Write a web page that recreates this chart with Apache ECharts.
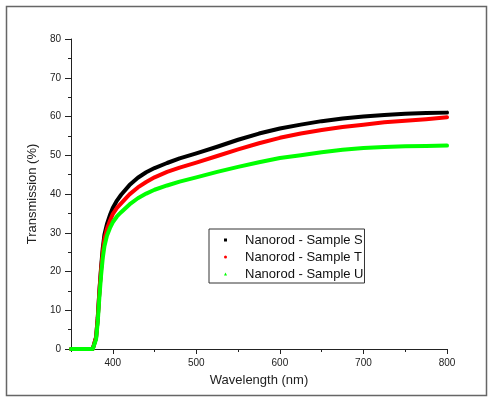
<!DOCTYPE html>
<html>
<head>
<meta charset="utf-8">
<script src="https://cdn.jsdelivr.net/npm/echarts@6/dist/echarts.min.js"></script>
<style>
  html, body { margin: 0; padding: 0; background: #fff; }
  #chart { width: 490px; height: 397px; }
</style>
</head>
<body>
<div id="chart"></div>
<script>
// Wavelength samples (nm)
const wavelength = [350, 360, 370, 376, 378, 380, 382, 384, 386, 388, 390, 393, 397, 400, 405, 410, 420, 430, 440, 450, 465, 480, 500, 525, 550, 575, 600, 625, 650, 675, 700, 725, 750, 775, 800];

// Transmission (%) for each sample
const sampleS = [0, 0, 0, 0, 0.5, 3, 8, 15, 21, 26, 29.5, 32.2, 34.8, 36.4, 38.3, 39.8, 42.3, 44.2, 45.6, 46.7, 48.0, 49.2, 50.5, 52.2, 54.0, 55.6, 56.9, 57.9, 58.8, 59.5, 60.0, 60.4, 60.7, 60.9, 61.0];
const sampleT = [0, 0, 0, 0, 0.5, 3, 8, 15, 20.5, 25, 28.3, 31.0, 33.3, 34.8, 36.4, 37.6, 39.9, 41.7, 43.1, 44.3, 45.7, 46.8, 48.1, 49.8, 51.5, 53.1, 54.5, 55.6, 56.5, 57.3, 57.9, 58.5, 58.9, 59.3, 59.8];
const sampleU = [0, 0, 0, 0, 0.3, 2.5, 7, 13.5, 19, 23.5, 26.5, 29.2, 31.4, 32.7, 34.2, 35.3, 37.3, 38.9, 40.1, 41.1, 42.2, 43.2, 44.3, 45.7, 47.0, 48.2, 49.3, 50.0, 50.8, 51.4, 51.9, 52.1, 52.3, 52.4, 52.5];

const seriesNames = ['Nanorod - Sample S', 'Nanorod - Sample T', 'Nanorod - Sample U'];
const seriesColors = ['#000000', '#ff0000', '#00ff00'];
const legendIcons = ['rect', 'circle', 'triangle'];
const xMajorTicks = [400, 500, 600, 700, 800];

const FONT = 'Arial, "Liberation Sans", sans-serif';
const pairs = v => wavelength.map((w, i) => [w, v[i]]);

const chart = echarts.init(document.getElementById('chart'), null, { renderer: 'canvas' });

chart.setOption({
  animation: false,
  backgroundColor: '#ffffff',
  textStyle: { fontFamily: FONT },
  graphic: [{
    type: 'rect',
    shape: { x: 6.5, y: 6.5, width: 480, height: 389 },
    style: { fill: 'none', stroke: '#666', lineWidth: 1.5 },
    silent: true
  }],
  grid: { left: 71, right: 43, top: 39, bottom: 48 },
  legend: {
    orient: 'vertical',
    left: 209,
    top: 229,
    padding: [4, 1, 2, 15],
    itemGap: 3,
    itemWidth: 3,
    itemHeight: 3,
    borderColor: '#333',
    borderWidth: 1,
    data: seriesNames.map((n, i) => ({ name: n, icon: legendIcons[i] })),
    textStyle: { fontFamily: FONT, fontSize: 13, color: '#111', lineHeight: 14, padding: [0, 0, 0, 13] }
  },
  xAxis: [{
    type: 'value',
    min: 350,
    max: 800,
    interval: 50,
    name: 'Wavelength (nm)',
    nameLocation: 'middle',
    nameGap: 25,
    nameTextStyle: { fontFamily: FONT, fontSize: 13, color: '#222' },
    axisLine: { show: true, lineStyle: { color: '#222', width: 1 } },
    axisTick: { show: true, inside: false, length: 3, lineStyle: { color: '#222' } },
    axisLabel: {
      fontFamily: FONT, fontSize: 10, color: '#222', margin: 9,
      formatter: v => (v % 100 === 0 ? String(v) : '')
    },
    splitLine: { show: false }
  }, {
    type: 'value',
    min: 350,
    max: 800,
    position: 'bottom',
    axisLine: { show: false },
    axisTick: { show: true, inside: false, length: 5, customValues: xMajorTicks, lineStyle: { color: '#222' } },
    axisLabel: { show: false },
    splitLine: { show: false }
  }],
  yAxis: {
    type: 'value',
    min: 0,
    max: 80,
    interval: 10,
    name: 'Transmission (%)',
    nameLocation: 'middle',
    nameGap: 31,
    nameTextStyle: { fontFamily: FONT, fontSize: 13, color: '#222' },
    axisLine: { show: true, lineStyle: { color: '#222', width: 1 } },
    axisTick: { show: true, inside: false, length: 6, lineStyle: { color: '#222' } },
    minorTick: { show: true, splitNumber: 2, length: 3, lineStyle: { color: '#222' } },
    axisLabel: { fontFamily: FONT, fontSize: 10, color: '#222', margin: 10 },
    splitLine: { show: false }
  },
  series: [sampleS, sampleT, sampleU].map((vals, i) => ({
    name: seriesNames[i],
    type: 'line',
    xAxisIndex: 0,
    data: pairs(vals),
    showSymbol: false,
    smooth: false,
    color: seriesColors[i],
    lineStyle: { color: seriesColors[i], width: 4, join: 'round', cap: 'round' }
  }))
});
</script>
</body>
</html>
